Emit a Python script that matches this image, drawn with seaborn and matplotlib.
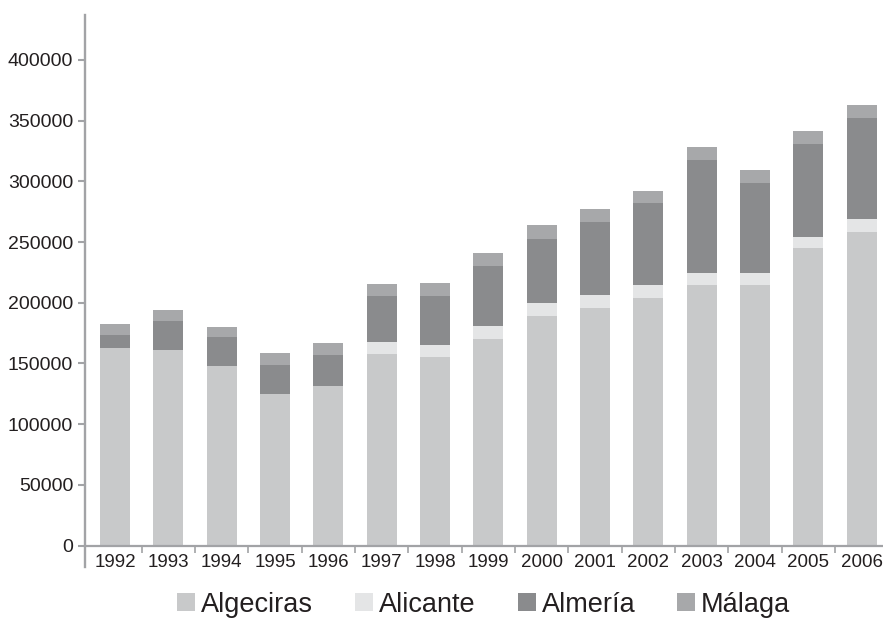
import numpy as np
import pandas as pd
import matplotlib
matplotlib.use("Agg")
import matplotlib.pyplot as plt
import seaborn as sns
from matplotlib.patches import Patch

# Values
years = ["1992", "1993", "1994", "1995", "1996", "1997", "1998", "1999",
         "2000", "2001", "2002", "2003", "2004", "2005", "2006"]
algeciras = [162700, 161100, 147900, 124800, 131400, 157800, 155300, 170100,
             189100, 195700, 203900, 214600, 214600, 245100, 258300]
alicante = [0, 0, 0, 0, 0, 9900, 9900, 10700,
            10700, 10700, 10700, 9900, 9900, 9100, 10700]
almeria = [10700, 23900, 23900, 23900, 25500, 37900, 40400, 49500,
           52700, 60100, 67600, 93100, 74200, 76600, 83200]
malaga = [9100, 9000, 8200, 9900, 9900, 9800, 10700, 10700,
          11600, 10700, 9900, 10700, 10700, 10700, 10700]

ports = ["Algeciras", "Alicante", "Almería", "Málaga"]
colors = ["#c8c9ca", "#e4e5e6", "#8a8b8d", "#a7a8aa"]
axis_gray = "#a2a3a6"
text_col = "#231f20"

sns.set_theme(style="white")
plt.rcParams['font.family'] = ['Liberation Sans', 'DejaVu Sans']

df = pd.DataFrame({"year": years, "Algeciras": algeciras, "Alicante": alicante,
                   "Almería": almeria, "Málaga": malaga})
# cumulative totals, drawn from the tallest down so each layer covers the one above
cum = df[ports].cumsum(axis=1)

fig = plt.figure(figsize=(8.83, 6.19), dpi=100)
ax = fig.add_axes([0.0963, 0.1187, 0.9037, 0.8571])

for port, col in reversed(list(zip(ports, colors))):
    sns.barplot(x=df["year"], y=cum[port], color=col, width=0.563,
                saturation=1, ax=ax, errorbar=None, linewidth=0,
                edgecolor="none")

ax.set_xlim(-0.563, 14.403)
ax.set_ylim(0, 437000)
ax.set_yticks(np.arange(0, 400001, 50000))
ax.set_xlabel("")
ax.set_ylabel("")

for s in ["top", "right"]:
    ax.spines[s].set_visible(False)
ax.spines["left"].set_color(axis_gray)
ax.spines["left"].set_linewidth(1.7)
ax.spines["left"].set_bounds(-17700, 437000)
ax.spines["bottom"].set_color(axis_gray)
ax.spines["bottom"].set_linewidth(1.6)

ax.tick_params(axis="y", length=5, width=1.5, color=axis_gray, left=True,
               labelsize=14, labelcolor=text_col, pad=3.5)
ax.tick_params(axis="x", which="major", length=0, labelsize=13.5,
               labelcolor=text_col, pad=6)
ax.set_xticks(np.arange(0.5, 14, 1), minor=True)
ax.tick_params(axis="x", which="minor", length=5, width=1.2, color=axis_gray,
               bottom=True)

handles = [Patch(facecolor=c, edgecolor="none") for c in colors]
fig.legend(handles, ports, loc="center", bbox_to_anchor=(0.548, 0.023), ncol=4,
           frameon=False, fontsize=19.5, handlelength=0.66, handleheight=0.66,
           handletextpad=0.22, columnspacing=1.55, labelcolor=text_col,
           borderaxespad=0, borderpad=0)

fig.savefig("out.png", dpi=100)
